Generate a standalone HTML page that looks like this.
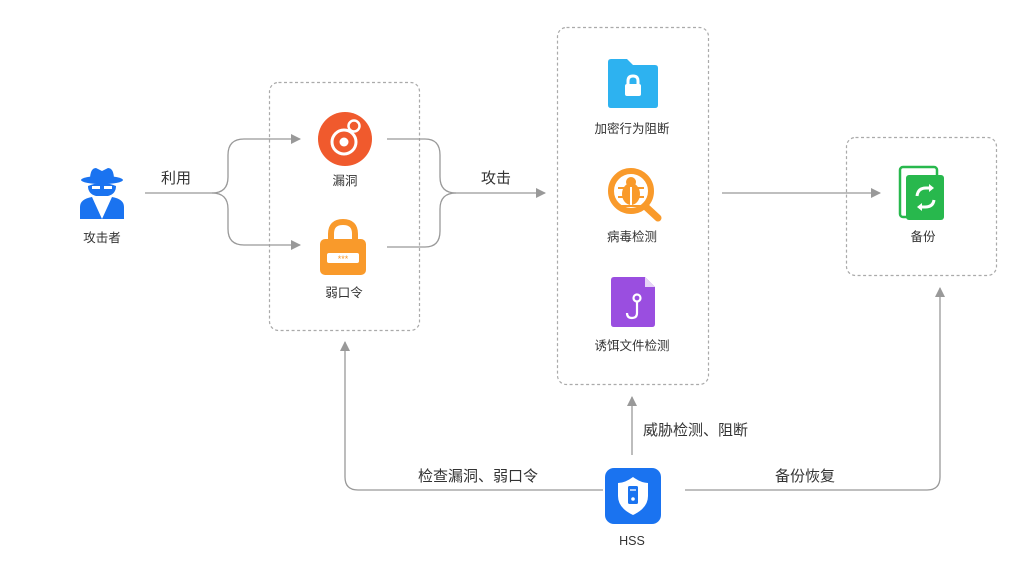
<!DOCTYPE html>
<html><head><meta charset="utf-8"><style>
html,body{margin:0;padding:0;background:#fff;}
svg{display:block;}
text{font-family:"Liberation Sans","Noto Sans CJK SC",sans-serif;fill:#333;}
</style></head><body>
<svg width="1024" height="577" viewBox="0 0 1024 577" xmlns="http://www.w3.org/2000/svg">
<defs>
<marker id="ar" markerWidth="10" markerHeight="10" refX="9" refY="5" orient="auto" markerUnits="userSpaceOnUse">
<path d="M0,0 L10,5 L0,10 Z" fill="#999"/></marker>
</defs>
<rect width="1024" height="577" fill="#fff"/>
<!-- dashed boxes -->
<g fill="none" stroke="#aaa" stroke-width="1.2" stroke-dasharray="3,2.5">
<rect x="269.5" y="82.5" width="150" height="248" rx="9"/>
<rect x="557.5" y="27.5" width="151" height="357" rx="9"/>
<rect x="846.5" y="137.5" width="150" height="138" rx="9"/>
</g>
<!-- connectors -->
<g fill="none" stroke="#999" stroke-width="1.3">
<path d="M145,193 H212 Q228,193 228,177 V155 Q228,139 244,139 H300" marker-end="url(#ar)"/>
<path d="M212,193 Q228,193 228,209 V229 Q228,245 244,245 H300" marker-end="url(#ar)"/>
<path d="M387,139 H425 Q440,139 440,155 V177 Q440,193 456,193 H545" marker-end="url(#ar)"/>
<path d="M387,247 H425 Q440,247 440,231 V209 Q440,193 456,193"/>
<path d="M722,193 H880" marker-end="url(#ar)"/>
<path d="M603,490 H358 Q345,490 345,477 V342" marker-end="url(#ar)"/>
<path d="M685,490 H927 Q940,490 940,477 V288" marker-end="url(#ar)"/>
<path d="M632,455 V397" marker-end="url(#ar)"/>
</g>
<!-- labels -->
<g font-size="15">
<text x="176" y="183" text-anchor="middle">利用</text>
<text x="496" y="183" text-anchor="middle">攻击</text>
<text x="643" y="435">威胁检测、阻断</text>
<text x="478" y="481" text-anchor="middle">检查漏洞、弱口令</text>
<text x="805" y="481" text-anchor="middle">备份恢复</text>
</g>
<g font-size="12.5" text-anchor="middle">
<text x="102" y="242">攻击者</text>
<text x="345" y="185">漏洞</text>
<text x="344" y="297">弱口令</text>
<text x="632" y="133">加密行为阻断</text>
<text x="632" y="241">病毒检测</text>
<text x="632" y="350">诱饵文件检测</text>
<text x="923" y="241">备份</text>
<text x="632" y="545">HSS</text>
</g>
<!-- attacker icon -->
<g fill="#1a73f0">
<ellipse cx="102" cy="180" rx="21" ry="4"/>
<path d="M90,180 Q90,168 96,168 L102,171 L108,168 Q114,168 114,180 Z"/>
<path d="M88,186 Q102,180 116,186 Q116,194 108,196 H96 Q88,194 88,186 Z"/>
<path d="M80,219 V207 Q80,199 92,197 L102,219 L112,197 Q124,199 124,207 V219 Z"/>
</g>
<g fill="#fff"><rect x="92" y="186" width="8" height="3"/><rect x="104" y="186" width="8" height="3"/></g>
<!-- vulnerability icon -->
<circle cx="345" cy="139" r="27" fill="#f05a2d"/>
<circle cx="344" cy="142" r="12" fill="none" stroke="#fff" stroke-width="3"/>
<circle cx="344" cy="142" r="4.5" fill="#fff"/>
<circle cx="354" cy="126" r="5.5" fill="#f05a2d" stroke="#fff" stroke-width="2.5"/>
<!-- lock icon -->
<path d="M331,240 V234 Q331,222 343,222 Q355,222 355,234 V240" fill="none" stroke="#f99a2b" stroke-width="6"/>
<rect x="320" y="239" width="46" height="36" rx="5" fill="#f99a2b"/>
<rect x="327" y="253" width="32" height="10" rx="2" fill="#fff"/>
<text x="343" y="262" text-anchor="middle" font-size="9" style="fill:#f99a2b">***</text>
<!-- folder -->
<path d="M608,62 Q608,59 611,59 H627 L633,65 H655 Q658,65 658,68 V105 Q658,108 655,108 H611 Q608,108 608,105 Z" fill="#2db2f0"/>
<path d="M628,85 V81 Q628,76 633,76 Q638,76 638,81 V85" fill="none" stroke="#fff" stroke-width="3"/>
<rect x="625" y="84" width="16" height="12" rx="2" fill="#fff"/>
<!-- bug magnifier -->
<line x1="645" y1="206" x2="658" y2="218" stroke="#f99a2b" stroke-width="7" stroke-linecap="round"/>
<circle cx="631" cy="191" r="20" fill="none" stroke="#f99a2b" stroke-width="6"/>
<ellipse cx="631" cy="194" rx="9" ry="11" fill="#f99a2b"/>
<circle cx="631" cy="182" r="5" fill="#f99a2b"/>
<g stroke="#f99a2b" stroke-width="2"><line x1="618" y1="188" x2="644" y2="188"/><line x1="618" y1="197" x2="644" y2="197"/><line x1="620" y1="206" x2="642" y2="206"/></g>
<line x1="631" y1="187" x2="631" y2="205" stroke="#fff" stroke-width="2"/>
<!-- purple doc -->
<path d="M614,277 H645 L655,287 V324 Q655,327 652,327 H614 Q611,327 611,324 V280 Q611,277 614,277 Z" fill="#9a4ee0"/>
<path d="M645,277 L655,287 H645 Z" fill="#e6d4f7"/>
<circle cx="637" cy="298" r="3.5" fill="none" stroke="#fff" stroke-width="2.2"/>
<path d="M637,302 V313 Q637,318 632,318 Q627,318 627,313" fill="none" stroke="#fff" stroke-width="2.2"/>
<!-- green backup -->
<rect x="900" y="167" width="37" height="50" rx="3" fill="none" stroke="#28b84d" stroke-width="2.5"/>
<rect x="906" y="175" width="38" height="45" rx="3" fill="#28b84d"/>
<path d="M917,196 Q918,188 926,188 L930,188" fill="none" stroke="#fff" stroke-width="3"/>
<path d="M929,184 L934,188 L929,192 Z" fill="#fff"/>
<path d="M934,200 Q933,207 925,207 L921,207" fill="none" stroke="#fff" stroke-width="3"/>
<path d="M922,203 L917,207 L922,211 Z" fill="#fff"/>
<!-- HSS -->
<rect x="605" y="468" width="56" height="56" rx="9" fill="#1a73f0"/>
<path d="M633,477 Q625,483 618,483 V496 Q618,508 633,515 Q648,508 648,496 V483 Q641,483 633,477 Z" fill="#fff"/>
<rect x="628" y="486" width="10" height="18" rx="1.5" fill="#1a73f0"/>
<line x1="630" y1="490" x2="636" y2="490" stroke="#fff" stroke-width="1.3"/>
<circle cx="633" cy="499" r="1.8" fill="#fff"/>
</svg>
</body></html>
